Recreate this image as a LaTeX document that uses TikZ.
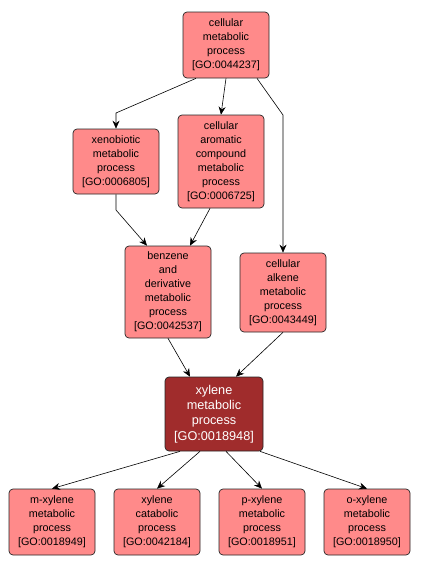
\documentclass[tikz,border=0pt]{standalone}
\usepackage{fontspec}
\setmainfont{Liberation Sans}
\usetikzlibrary{arrows.meta}
\definecolor{gofill}{HTML}{FF8A8A}
\definecolor{gomain}{HTML}{A02C2C}
\tikzset{
  goterm/.style={draw=black!85, fill=gofill, rounded corners=4pt, line width=0.7pt,
    align=center, font=\fontsize{10.8}{14}\selectfont, inner sep=1pt, minimum width=86pt},
  gomainterm/.style={goterm, fill=gomain, text=white, minimum width=98pt, font=\fontsize{12.7}{15.3}\selectfont},
  arr/.style={-{Stealth[length=8pt,width=7pt]}, line width=0.6pt, black}
}
\begin{document}
\begin{tikzpicture}[x=1pt,y=-1pt]
\useasboundingbox (0,0) rectangle (421,568);
\node[goterm, minimum height=66pt] (n1) at (226,45) {cellular\\metabolic\\process\\{}[GO:0044237]};
\node[goterm, minimum height=65pt] (n2) at (116,161.5) {xenobiotic\\metabolic\\process\\{}[GO:0006805]};
\node[goterm, minimum height=93pt] (n3) at (221,161.5) {cellular\\aromatic\\compound\\metabolic\\process\\{}[GO:0006725]};
\node[goterm, minimum height=92pt] (n4) at (168,292) {benzene\\and\\derivative\\metabolic\\process\\{}[GO:0042537]};
\node[goterm, minimum height=79pt] (n5) at (283,292.5) {cellular\\alkene\\metabolic\\process\\{}[GO:0043449]};
\node[gomainterm, minimum height=74pt] (n6) at (214,414) {xylene\\metabolic\\process\\{}[GO:0018948]};
\node[goterm, minimum height=66pt] (n7) at (52,522) {m-xylene\\metabolic\\process\\{}[GO:0018949]};
\node[goterm, minimum height=66pt] (n8) at (157,522) {xylene\\catabolic\\process\\{}[GO:0042184]};
\node[goterm, minimum height=66pt] (n9) at (262,522) {p-xylene\\metabolic\\process\\{}[GO:0018951]};
\node[goterm, minimum height=66pt] (n10) at (367,522) {o-xylene\\metabolic\\process\\{}[GO:0018950]};
\coordinate (b12) at (116,113);
\coordinate (b15) at (283,115);
\coordinate (b24) at (116,210);
\draw[arr] ([xshift=-30pt]n1.south) -- (b12) -- (n2.north);
\draw[arr] (n1.south) -- (n3.north);
\draw[arr] ([xshift=31pt]n1.south) -- (b15) -- (n5.north);
\draw[arr] (n2.south) -- (b24) -- ([xshift=-21pt]n4.north);
\draw[arr] ([xshift=-11pt]n3.south) -- ([xshift=22pt]n4.north);
\draw[arr] (n4.south) -- ([xshift=-24pt]n6.north);
\draw[arr] (n5.south) -- ([xshift=22pt]n6.north);
\draw[arr] ([xshift=-34pt]n6.south) -- (n7.north);
\draw[arr] ([xshift=-14pt]n6.south) -- (n8.north);
\draw[arr] ([xshift=12pt]n6.south) -- (n9.north);
\draw[arr] ([xshift=46pt]n6.south) -- (n10.north);
\end{tikzpicture}
\end{document}
